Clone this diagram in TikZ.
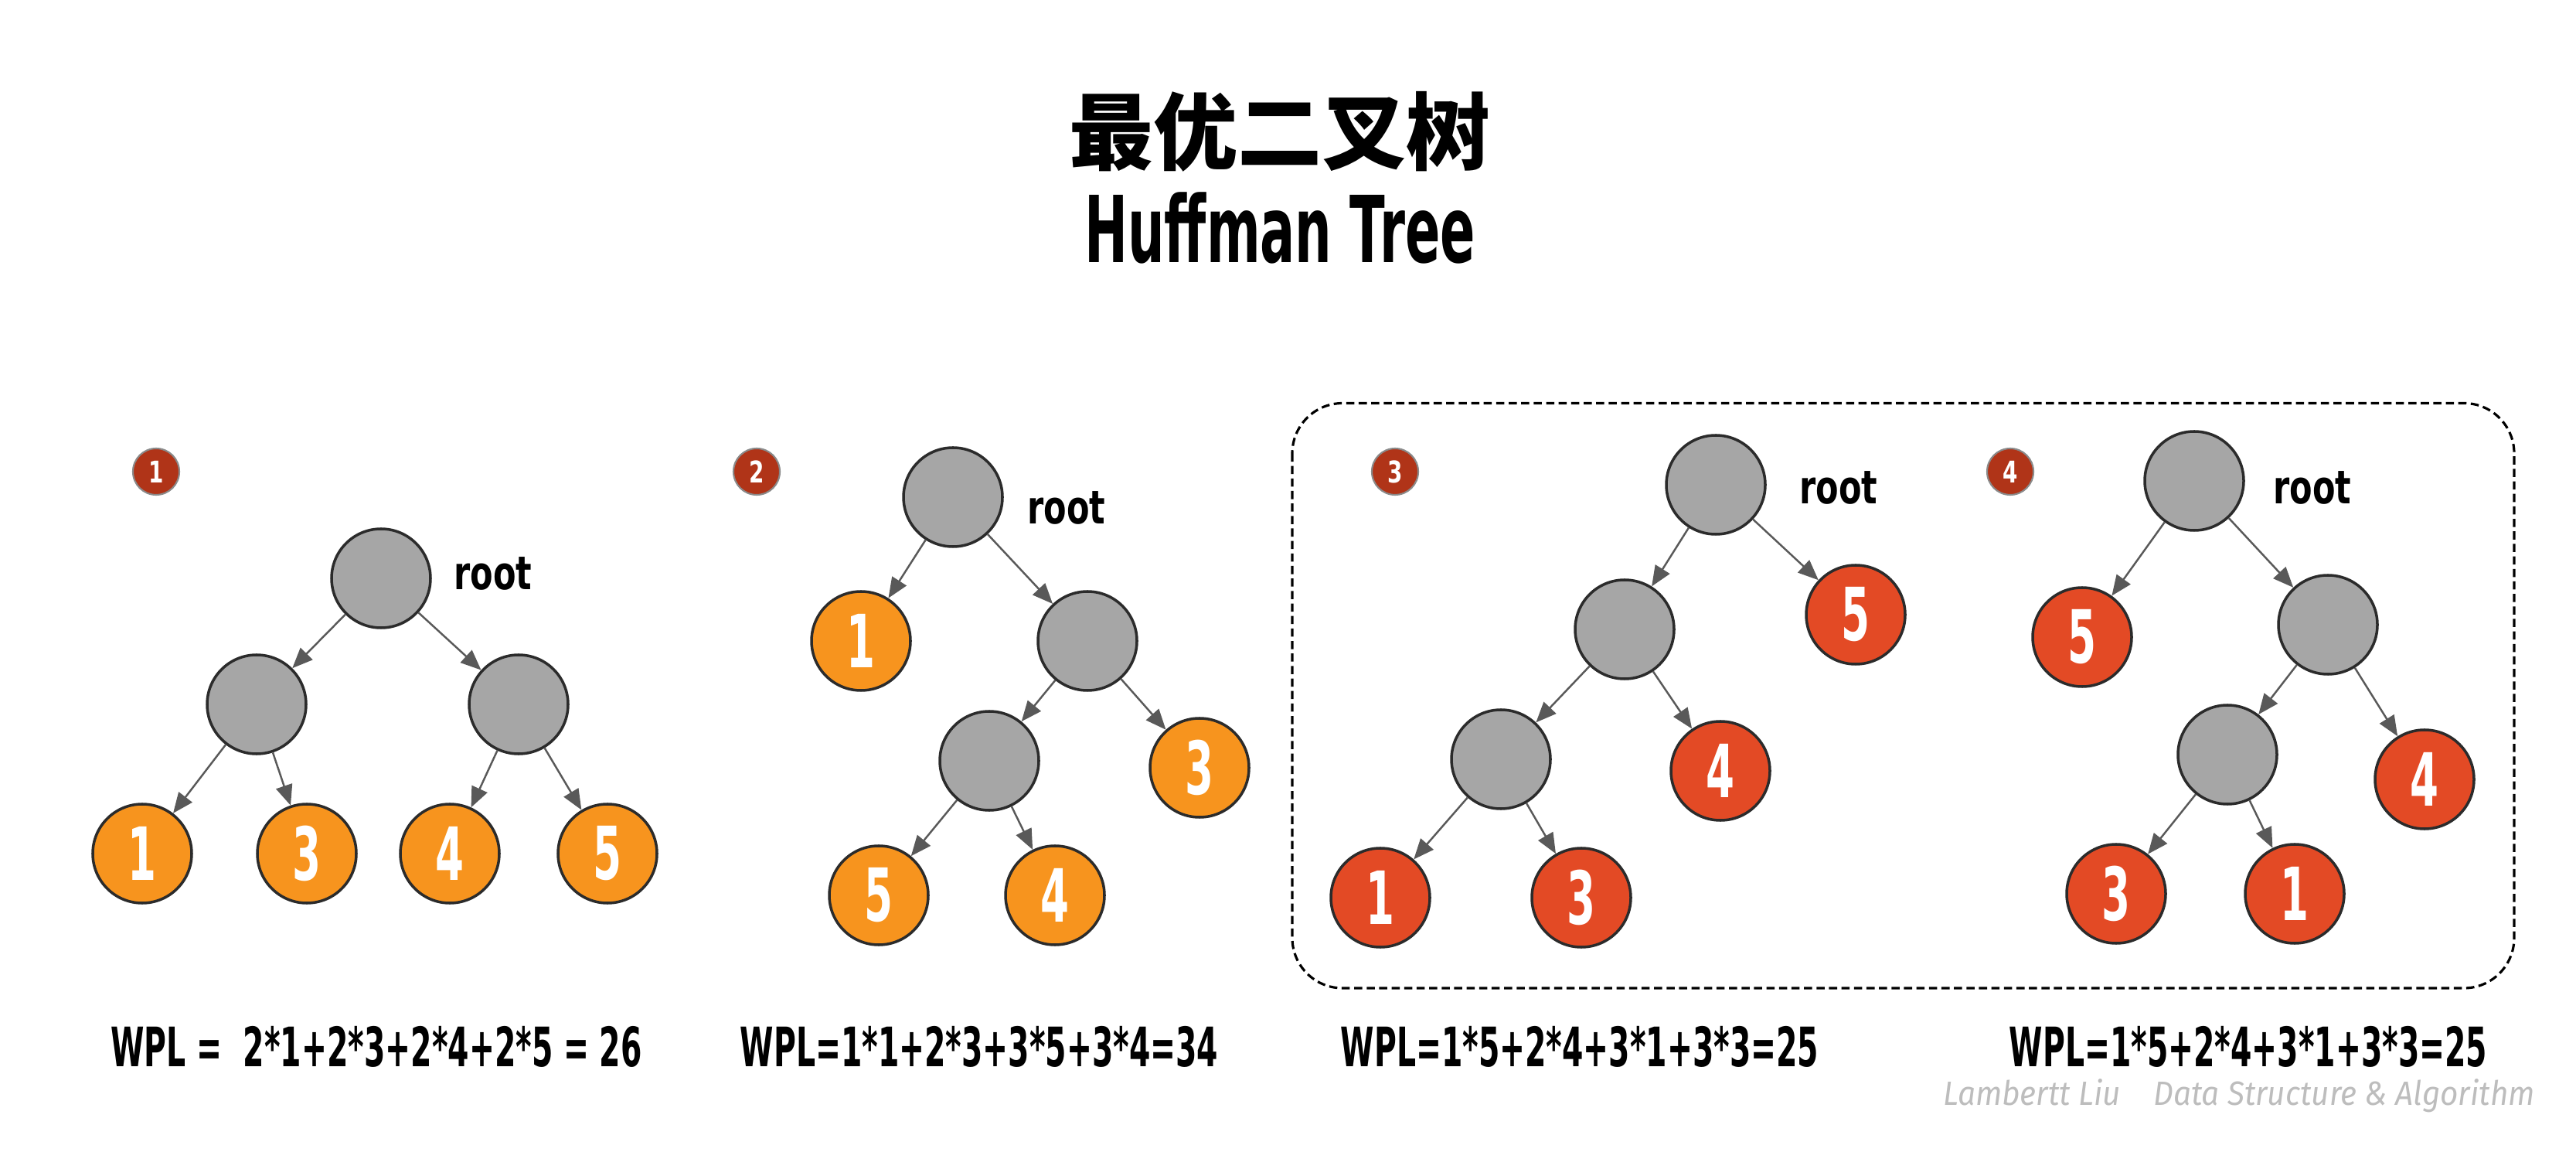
\documentclass[tikz,border=0pt]{standalone}
\usepackage{fontspec}
\usepackage{xcolor}
\usepackage{tikz}
\usetikzlibrary{arrows.meta,positioning}
\newfontfamily\cond{DejaVu Sans}[FakeStretch=0.56]
\newfontfamily\condw{DejaVu Sans}[FakeStretch=0.72]
\newfontfamily\cjk{Noto Sans CJK SC}
\newfontfamily\lite{Fira Sans}[FakeStretch=0.93]
\definecolor{nodegray}{HTML}{A6A6A6}
\definecolor{outl}{HTML}{2B2B2B}
\definecolor{edgegray}{HTML}{595959}
\definecolor{leaforange}{HTML}{F7941E}
\definecolor{leafred}{HTML}{E34A25}
\definecolor{badgered}{HTML}{B03418}
\definecolor{badgeedge}{HTML}{8A8A8A}
\tikzset{
  inner/.style={circle,draw=outl,line width=1pt,fill=nodegray,minimum size=1.28cm,inner sep=0pt},
  leafo/.style={inner,fill=leaforange,text=white,font=\cond\bfseries\fontsize{27}{27}\selectfont},
  leafr/.style={leafo,fill=leafred},
  badge/.style={circle,draw=badgeedge,line width=0.6pt,fill=badgered,minimum size=0.6cm,inner sep=0pt,text=white,font=\condw\bfseries\fontsize{11}{11}\selectfont},
  edge/.style={draw=edgegray,line width=0.7pt,-{Triangle[length=7.5pt,width=6.2pt]}},
  rootlbl/.style={font=\condw\bfseries\fontsize{17}{17}\selectfont},
  wpl/.style={font=\cond\bfseries\fontsize{20}{20}\selectfont}
}

\begin{document}
\begin{tikzpicture}[x=1cm,y=-1cm]
\useasboundingbox (0,0) rectangle (33.33,14.99);
% title
\node[font=\cjk\bfseries\fontsize{31}{31}\selectfont] (title) at (16.56,1.70) {最优二叉树};
\node[font=\cond\bfseries\fontsize{34}{34}\selectfont] (subtitle) at (16.56,2.95) {Huffman Tree};
\draw[dashed,dash pattern=on 3pt off 1.6pt,line width=0.9pt,rounded corners=0.65cm] (16.72,5.215) rectangle (32.53,12.78);
% step badges
\foreach \n/\x in {1/2.02,2/9.79,3/18.05,4/26.01}
  \node[badge] (b\n) at (\x,6.10) {\n};
% inner nodes
\foreach \n/\x/\y in {t1r/4.93/7.48,t1a/3.32/9.11,t1b/6.71/9.11,
t2r/12.33/6.43,t2a/14.07/8.29,t2b/12.80/9.84,
t3r/22.20/6.27,t3a/21.02/8.14,t3b/19.42/9.82,
t4r/28.39/6.22,t4a/30.12/8.08,t4b/28.82/9.76}
  \node[inner] (\n) at (\x,\y) {};
% leaves
\foreach \n/\x/\y/\w in {t1l1/1.84/11.04/1,t1l3/3.97/11.04/3,t1l4/5.82/11.04/4,t1l5/7.86/11.04/5,
t2l1/11.14/8.29/1,t2l3/15.52/9.93/3,t2l5/11.37/11.58/5,t2l4/13.65/11.58/4}
  \node[leafo] (\n) at (\x,\y) {\w};
\foreach \n/\x/\y/\w in {t3l5/24.01/7.95/5,t3l4/22.26/9.97/4,t3l1/17.86/11.61/1,t3l3/20.46/11.61/3,
t4l5/26.94/8.24/5,t4l4/31.37/10.08/4,t4l3/27.38/11.56/3,t4l1/29.69/11.56/1}
  \node[leafr] (\n) at (\x,\y) {\w};
% root labels
\foreach \n/\x/\y in {1/6.38/7.42,2/13.80/6.57,3/23.79/6.31,4/29.92/6.31}
  \node[rootlbl] (lbl\n) at (\x,\y) {root};
% edges
\foreach \a/\b in {t1r/t1a,t1r/t1b,t1a/t1l1,t1a/t1l3,t1b/t1l4,t1b/t1l5,
t2r/t2l1,t2r/t2a,t2a/t2b,t2a/t2l3,t2b/t2l5,t2b/t2l4,
t3r/t3a,t3r/t3l5,t3a/t3b,t3a/t3l4,t3b/t3l1,t3b/t3l3,
t4r/t4l5,t4r/t4a,t4a/t4b,t4a/t4l4,t4b/t4l3,t4b/t4l1}
  \draw[edge] (\a) -- (\b);
% weighted path lengths
\node[wpl] (w1) at (4.87,13.54) {WPL = \ 2*1+2*3+2*4+2*5 = 26};
\node[wpl] (w2) at (12.67,13.54) {WPL=1*1+2*3+3*5+3*4=34};
\node[wpl] (w3) at (20.44,13.54) {WPL=1*5+2*4+3*1+3*3=25};
\node[wpl] (w4) at (29.09,13.54) {WPL=1*5+2*4+3*1+3*3=25};
\node[font=\lite\itshape\fontsize{12.4}{12.4}\selectfont,text=black!26] (credit) at (28.97,14.17) {Lambertt Liu \ \ \ Data Structure \& Algorithm};
\end{tikzpicture}
\end{document}
